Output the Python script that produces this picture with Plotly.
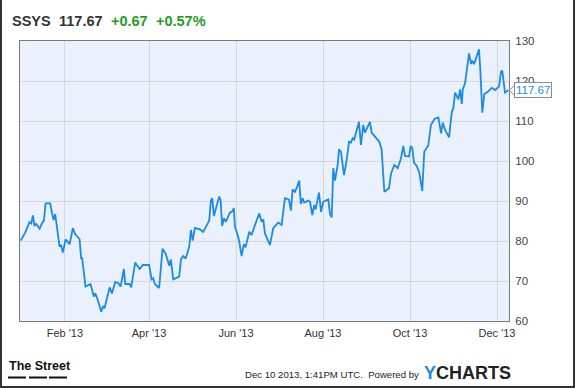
import pandas as pd
import plotly.graph_objects as go

# ---- data ----
ticker = "SSYS"
last_price = 117.67
change_abs = "+0.67"
change_pct = "+0.57%"
start_date = "2013-01-01"

day_offsets = [
    0, 3.2, 6.2, 7.4, 8.6, 9.7, 10.9, 13.3, 14.9, 16.3, 17.5, 20.7, 22.1, 23.1, 24.2,
    25.6, 27.3, 28.4, 29.6, 31.5, 34.3, 36.6, 38.2, 41.3, 42.4, 43.1, 45.5, 49.0, 51.3,
    52.3, 54.1, 56.5, 57.7, 58.8, 62.4, 64.0, 66.3, 68.7, 70.1, 72.4, 73.3, 76.4, 77.5,
    80.3, 83.4, 85.7, 90.1, 91.8, 92.9, 94.1, 97.1, 99.5, 101.8, 104.2, 105.3, 107.0,
    111.2, 112.4, 114.0, 115.7, 118.2, 119.4, 120.6, 122.2, 125.7, 128.0, 130.4, 132.2,
    133.4, 134.3, 135.5, 137.4, 139.2, 140.2, 141.3, 142.5, 143.9, 146.7, 148.6, 149.5,
    150.2, 153.0, 154.9, 156.5, 157.7, 160.3, 161.9, 164.3, 167.3, 169.0, 170.1, 171.3,
    174.8, 177.1, 180.6, 183.0, 185.3, 188.1, 189.5, 190.7, 192.3, 193.9, 195.3, 196.5,
    197.7, 198.8, 201.7, 202.9, 204.5, 205.9, 206.8, 209.2, 210.6, 212.2, 215.7, 216.9,
    218.1, 219.2, 220.4, 222.3, 223.2, 224.6, 226.7, 228.6, 230.2, 231.6, 232.8, 233.9,
    237.2, 238.6, 240.2, 241.4, 244.9, 246.1, 248.4, 251.5, 253.1, 255.0, 258.3, 259.7,
    262.0, 264.4, 266.7, 268.3, 269.5, 272.3, 273.5, 274.6, 275.8, 277.7, 279.5, 280.7,
    281.6, 283.0, 285.8, 287.7, 290.1, 292.9, 294.8, 296.0, 297.6, 300.4, 302.3, 303.4,
    304.6, 306.9, 308.1, 309.3, 310.0, 311.6, 312.8, 314.4, 315.8, 316.7, 317.9, 321.4,
    322.3, 323.7, 325.1, 327.5, 330.3, 332.6, 335.4, 336.8, 337.7, 339.6, 342.0,
]
prices = [
    80.1, 82.1, 84.7, 84.4, 86.4, 83.75, 84.25, 83.1, 84.4, 85.1, 89.4, 89.4, 86.75, 85.25, 86.75,
    82.75, 78.6, 79.0, 77.1, 80.4, 79.2, 83.2, 81.75, 80.5, 75.7, 75.7, 68.6, 69.25, 66.1,
    66.9, 65.25, 62.3, 63.6, 63.2, 68.4, 66.9, 69.75, 69.4, 68.6, 73.0, 69.25, 69.25, 68.4,
    74.6, 73.0, 74.0, 74.0, 70.4, 70.7, 69.25, 68.25, 78.1, 76.7, 73.8, 75.4, 70.4,
    71.1, 75.4, 76.25, 75.6, 78.6, 82.75, 80.1, 83.3, 82.9, 82.3, 84.0, 85.1,
    90.1, 90.7, 86.25, 89.0, 91.1, 90.25, 83.75, 85.7, 84.8, 87.1, 87.5, 88.2,
    83.75, 80.4, 76.25, 79.2, 78.4, 82.3, 81.5, 84.0, 86.9, 84.8, 85.4, 81.9,
    79.0, 83.2, 84.6, 84.0, 90.7, 90.4, 87.6, 92.9, 92.3, 93.6, 95.1, 89.25,
    90.7, 89.6, 90.1, 89.8, 86.5, 89.0, 87.9, 92.1, 87.3, 89.8, 90.4, 86.75,
    85.9, 98.2, 95.1, 99.0, 102.9, 102.3, 96.5, 100.25, 104.8, 104.6, 105.7, 105.4,
    109.8, 104.0, 109.0, 107.1, 109.8, 107.1, 106.1, 104.8, 102.9, 92.3, 93.2, 96.9,
    99.0, 98.2, 100.7, 103.75, 101.25, 101.1, 103.75, 103.2, 99.6, 98.75, 97.1, 93.75,
    92.5, 102.3, 103.9, 109.0, 110.5, 110.9, 106.9, 109.6, 107.75, 105.9, 112.3, 113.2,
    117.1, 115.4, 117.9, 114.25, 117.9, 119.4, 123.2, 126.9, 124.25, 125.1, 124.2, 127.9,
    122.75, 112.1, 116.75, 117.3, 118.3, 117.75, 118.6, 122.3, 122.6, 117.1, 117.67,
]

x_tick_dates = ["2013-02-01", "2013-04-01", "2013-06-01", "2013-08-01", "2013-10-01", "2013-12-01"]
x_tick_labels = ["Feb '13", "Apr '13", "Jun '13", "Aug '13", "Oct '13", "Dec '13"]
y_ticks = [60, 70, 80, 90, 100, 110, 120, 130]
timestamp_text = "Dec 10 2013, 1:41PM UTC.  Powered by"

dates = pd.Timestamp(start_date) + pd.to_timedelta(day_offsets, unit="D")

# ---- layout geometry (pixels) ----
W, H = 575, 388
L, R, T, B = 20, 509, 41, 321


def px(x):
    return (x - L) / (R - L)


def py(y):
    return (B - y) / (B - T)


FONT = "Liberation Sans, Arial, sans-serif"
LINE_BLUE = "#1a8be6"

fig = go.Figure()
fig.add_trace(go.Scatter(
    x=dates, y=prices, mode="lines",
    line=dict(color=LINE_BLUE, width=1.8),
    hoverinfo="skip", showlegend=False,
))

fig.update_layout(
    width=W, height=H,
    margin=dict(l=L, r=W - R, t=T, b=H - B, pad=0),
    paper_bgcolor="white",
    plot_bgcolor="#eaf0fc",
    font=dict(family=FONT, color="#333333"),
    showlegend=False,
    xaxis=dict(
        type="date",
        range=["2012-12-31 13:00", "2013-12-09 10:00"],
        tickvals=x_tick_dates, ticktext=x_tick_labels,
        tickfont=dict(size=11, color="#333333"),
        showgrid=True, gridcolor="#d6d6d6", gridwidth=1,
        showline=True, linecolor="#7a7a7a", linewidth=1, mirror=True,
        ticks="", zeroline=False, fixedrange=True,
        ticklabelstandoff=2,
    ),
    yaxis=dict(
        range=[60, 130], side="right",
        tickvals=y_ticks,
        tickfont=dict(size=11.5, color="#444444"),
        showgrid=True, gridcolor="#d6d6d6", gridwidth=1,
        showline=True, linecolor="#7a7a7a", linewidth=1, mirror=True,
        ticks="", zeroline=False, fixedrange=True,
        ticklabelstandoff=3,
    ),
)

ann = []
# header
hy = py(21)
ann.append(dict(x=px(10), y=hy, xref="paper", yref="paper", xanchor="left", yanchor="middle",
                text=f"<b>{ticker}</b>", showarrow=False, font=dict(size=14.5, color="#333333", family=FONT)))
ann.append(dict(x=px(57), y=hy, xref="paper", yref="paper", xanchor="left", yanchor="middle",
                text=f"<b>{last_price:.2f}</b>", showarrow=False, font=dict(size=14.5, color="#333333", family=FONT)))
ann.append(dict(x=px(109), y=hy, xref="paper", yref="paper", xanchor="left", yanchor="middle",
                text=f"<b>{change_abs}</b>", showarrow=False, font=dict(size=14.5, color="#1e9e1e", family=FONT)))
ann.append(dict(x=px(154), y=hy, xref="paper", yref="paper", xanchor="left", yanchor="middle",
                text=f"<b>{change_pct}</b>", showarrow=False, font=dict(size=14.5, color="#1e9e1e", family=FONT)))

# last value callout
ann.append(dict(x=px(514), y=last_price, xref="paper", yref="y", xanchor="left", yanchor="middle",
                text=f"{last_price:.2f}", showarrow=False,
                font=dict(size=11.5, color=LINE_BLUE, family=FONT),
                bgcolor="white", bordercolor="#8a8a8a", borderwidth=1, borderpad=1))

# footer
ann.append(dict(x=px(7), y=py(366), xref="paper", yref="paper", xanchor="left", yanchor="middle",
                text="<b>The Street</b>", showarrow=False,
                font=dict(size=12.5, color="#111111", family=FONT)))
ann.append(dict(x=px(243), y=py(374), xref="paper", yref="paper", xanchor="left", yanchor="middle",
                text=timestamp_text, showarrow=False, font=dict(size=9.6, color="#222222", family=FONT)))
ann.append(dict(x=px(422), y=py(373), xref="paper", yref="paper", xanchor="left", yanchor="middle",
                text="<b><span style='color:#1a8be6'>Y</span>CHARTS</b>", showarrow=False,
                font=dict(size=18, color="#222222", family=FONT)))
fig.update_layout(annotations=ann)

shapes = []
# callout pointer
shapes.append(dict(type="path", xref="paper", yref="y",
                   path=f"M {px(515)} {last_price + 1.4} L {px(509.5)} {last_price} L {px(515)} {last_price - 1.4}",
                   line=dict(color="#8a8a8a", width=1), fillcolor="white", layer="above"))
# The Street underline dashes
for a, b in [(8, 26), (29, 47), (49, 67)]:
    shapes.append(dict(type="line", xref="paper", yref="paper", x0=px(a), x1=px(b), y0=py(377.5), y1=py(377.5),
                       line=dict(color="#111111", width=2)))
# outer frame (left, right, bottom)
shapes.append(dict(type="line", xref="paper", yref="paper", x0=px(1), x1=px(1), y0=py(0), y1=py(388),
                   line=dict(color="#333333", width=2)))
shapes.append(dict(type="line", xref="paper", yref="paper", x0=px(574), x1=px(574), y0=py(0), y1=py(388),
                   line=dict(color="#333333", width=2)))
shapes.append(dict(type="line", xref="paper", yref="paper", x0=px(0), x1=px(575), y0=py(387), y1=py(387),
                   line=dict(color="#333333", width=2)))
fig.update_layout(shapes=shapes)

fig.write_html("out.html")
